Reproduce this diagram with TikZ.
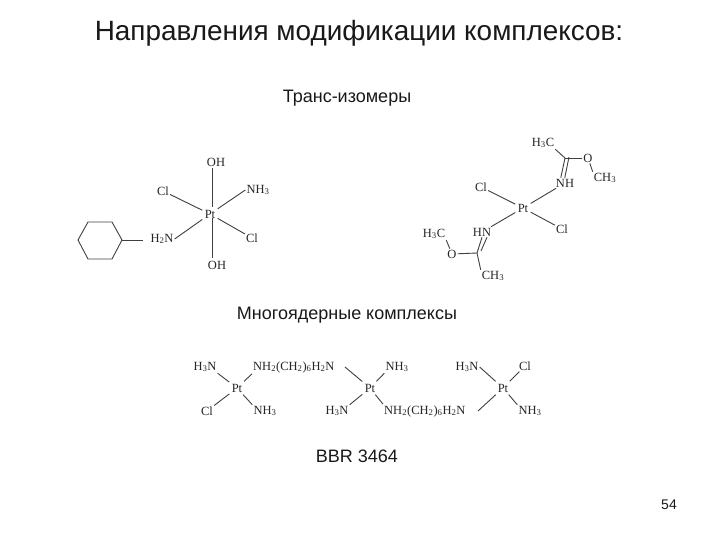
\documentclass[tikz,border=0pt]{standalone}
\usepackage{fontspec}
\setmainfont{Liberation Serif}
\newfontfamily\arialf{Liberation Sans}
\newcommand{\sbs}[1]{\textsubscript{#1}}
\tikzset{
  atom/.style={font=\fontsize{12.5}{14}\selectfont, text=black!85, inner sep=1.2pt, outer sep=0pt},
  metal/.style={atom, inner sep=2.5pt},
  titlelabel/.style={font=\arialf\fontsize{27.9}{32}\selectfont, text=black!90, inner sep=0pt},
  caption/.style={font=\arialf\fontsize{18}{21}\selectfont, text=black!90, inner sep=0pt},
  pagenum/.style={font=\arialf\fontsize{14}{16}\selectfont, text=black!90, inner sep=0pt},
  bond/.style={draw=black!75, line width=0.9pt},
  dbl/.style={draw=black!75, line width=0.9pt}
}
\begin{document}
\begin{tikzpicture}[x=1pt,y=-1pt]
\useasboundingbox (0,0) rectangle (720,540);
\fill[white] (0,0) rectangle (720,540);
% texts
\node[titlelabel] (title) at (359,33) {Направления модификации комплексов:};
\node[caption] (cap1) at (347,98) {Транс-изомеры};
\node[caption] (cap2) at (347,315) {Многоядерные комплексы};
\node[caption] (cap3) at (357,456) {BBR 3464};
\node[pagenum] (page) at (669,505) {54};
% left molecule
\node[metal] (lpt) at (210,214) {Pt};
\node[atom] (loh1) at (216,162) {OH};
\node[atom] (loh2) at (217,265) {OH};
\node[atom] (lcl1) at (163,191) {Cl};
\node[atom] (lnh3) at (258,190) {NH\sbs{3}};
\node[atom] (lh2n) at (162,239) {H\sbs{2}N};
\node[atom] (lcl2) at (252,238) {Cl};
\coordinate (lup) at (212,168);
\coordinate (lupb) at (212,207);
\coordinate (ldn) at (212,258);
\coordinate (ldnb) at (212,218);
\draw[bond] (lup) -- (lupb);
\draw[bond] (ldnb) -- (ldn);
\draw[bond] (lcl1) -- (lpt);
\draw[bond] (lnh3.west) -- (lpt);
\draw[bond] (lh2n.east) -- (lpt);
\draw[bond] (lcl2) -- (lpt);
\coordinate (h1) at (88,222);
\coordinate (h2) at (112,222);
\coordinate (h3) at (122,240);
\coordinate (h4) at (112,259);
\coordinate (h5) at (88,259);
\coordinate (h6) at (78,240);
\draw[bond] (h1) -- (h2) -- (h3) -- (h4) -- (h5) -- (h6) -- cycle;
\coordinate (hs) at (143,240);
\draw[bond] (h3) -- (hs);
% right molecule
\node[metal] (rpt) at (523,208) {Pt};
\node[atom] (rcl1) at (481,187) {Cl};
\node[atom] (rcl2) at (562,229) {Cl};
\node[atom] (rnh) at (565,183) {NH};
\node[atom] (rhn) at (482,232) {HN};
\node[atom] (rh3c1) at (543,143) {H\sbs{3}C};
\node[atom] (ro1) at (588,158) {O};
\node[atom] (rch31) at (605,178) {CH\sbs{3}};
\coordinate (rc1) at (565,158);
\node[atom] (rh3c2) at (434,234) {H\sbs{3}C};
\node[atom] (ro2) at (452,254) {O};
\node[atom] (rch32) at (493,276) {CH\sbs{3}};
\coordinate (rc2) at (477,253);
\draw[bond] (rcl1) -- (rpt);
\draw[bond] (rcl2) -- (rpt);
\draw[bond] (rnh) -- (rpt);
\draw[bond] (rhn) -- (rpt);
\draw[bond] (rc1) -- (rh3c1.south east);
\draw[bond] (rc1) -- (ro1);
\draw[bond] (ro1) -- (rch31.north west);
\draw[dbl] (rc1) -- ([xshift=6pt]rnh.north west);
\draw[dbl] ([xshift=4pt,yshift=1pt]rc1) -- ([xshift=10pt]rnh.north west);
\draw[bond] (rc2) -- (ro2);
\draw[bond] (ro2) -- (rh3c2.south east);
\draw[bond] (rc2) -- (rch32.north west);
\draw[dbl] (rc2) -- ([xshift=0pt]rhn.south);
\draw[dbl] ([xshift=4pt,yshift=2pt]rc2) -- ([xshift=5pt]rhn.south);
% bottom: first Pt
\node[metal] (b1pt) at (237,388) {Pt};
\node[atom] (b1h3n) at (205,367) {H\sbs{3}N};
\node[atom, anchor=west] (bridge1) at (252,367) {NH\sbs{2}(CH\sbs{2})\sbs{6}H\sbs{2}N};
\node[atom] (b1cl) at (207,411) {Cl};
\node[atom] (b1nh3) at (265,411) {NH\sbs{3}};
\draw[bond] (b1h3n.south east) -- (b1pt);
\draw[bond] (bridge1.south west) -- (b1pt);
\draw[bond] (b1cl) -- (b1pt);
\draw[bond] (b1nh3.north west) -- (b1pt);
% second Pt
\node[metal] (b2pt) at (370,388) {Pt};
\node[atom] (b2nh3) at (397,367) {NH\sbs{3}};
\node[atom] (b2h3n) at (337,411) {H\sbs{3}N};
\node[atom, anchor=west] (bridge2) at (383,411) {NH\sbs{2}(CH\sbs{2})\sbs{6}H\sbs{2}N};
\coordinate (b2free) at (345,367);
\draw[bond] (b2free) -- (b2pt);
\draw[bond] (b2nh3.south west) -- (b2pt);
\draw[bond] (b2h3n.north east) -- (b2pt);
\draw[bond] (bridge2.north west) -- (b2pt);
% third Pt
\node[metal] (b3pt) at (503,388) {Pt};
\node[atom] (b3h3n) at (467,367) {H\sbs{3}N};
\node[atom] (b3cl) at (525,366) {Cl};
\node[atom] (b3nh3) at (530,411) {NH\sbs{3}};
\coordinate (b3free) at (478,411);
\draw[bond] (b3h3n.east) -- (b3pt);
\draw[bond] (b3cl) -- (b3pt);
\draw[bond] (b3free) -- (b3pt);
\draw[bond] (b3nh3.north west) -- (b3pt);
\end{tikzpicture}
\end{document}
